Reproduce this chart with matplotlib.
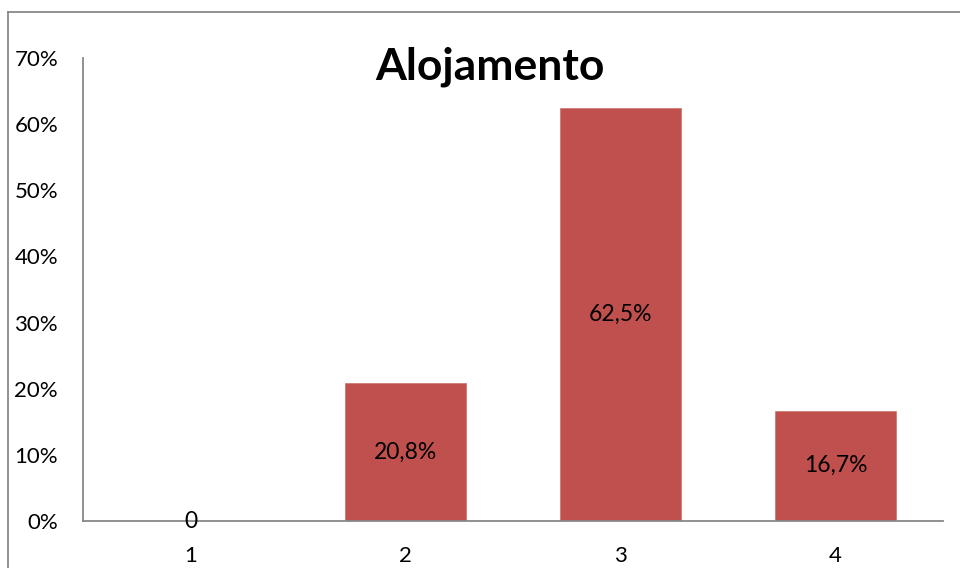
import matplotlib.pyplot as plt
from matplotlib.lines import Line2D

categories = ['1', '2', '3', '4']
values = [0.0, 0.208, 0.625, 0.167]
labels = ['0', '20,8%', '62,5%', '16,7%']
yticks = [0, 0.1, 0.2, 0.3, 0.4, 0.5, 0.6, 0.7]

plt.rcParams['font.family'] = ['Lato', 'DejaVu Sans']

fig = plt.figure(figsize=(9.6, 5.68), dpi=100)
ax = fig.add_axes([83/960, 1-521/568, 860/960, 463/568])

x = range(1, len(categories)+1)
ax.bar(x, values, width=0.565, color='#C0504D', edgecolor='#D07a77', linewidth=0.6)

for xi, v, lab in zip(x, values, labels):
    ax.text(xi, v/2, lab, ha='center', va='center', fontsize=16.5, color='black')

ax.set_xlim(0.5, 4.5)
ax.set_ylim(0, 0.7)
ax.set_xticks(list(x))
ax.set_xticklabels(categories, fontsize=16)
ax.set_yticks(yticks)
ax.set_yticklabels([f'{int(round(t*100))}%' for t in yticks], fontsize=16)
ax.tick_params(axis='both', length=0)
ax.tick_params(axis='y', pad=18)
ax.tick_params(axis='x', pad=18)

for s in ['top', 'right']:
    ax.spines[s].set_visible(False)
for s in ['left', 'bottom']:
    ax.spines[s].set_color('#888888')
    ax.spines[s].set_linewidth(1.3)

fig.text(490/960, 1-67/568, 'Alojamento', ha='center', va='center',
         fontsize=32, fontweight='bold')

# chart area border
fig.add_artist(Line2D([8/960, 8/960], [0, 1-12/568], color='#888888', lw=1.3))
fig.add_artist(Line2D([8/960, 1], [1-12/568, 1-12/568], color='#888888', lw=1.3))

fig.savefig('out.png', dpi=100)
